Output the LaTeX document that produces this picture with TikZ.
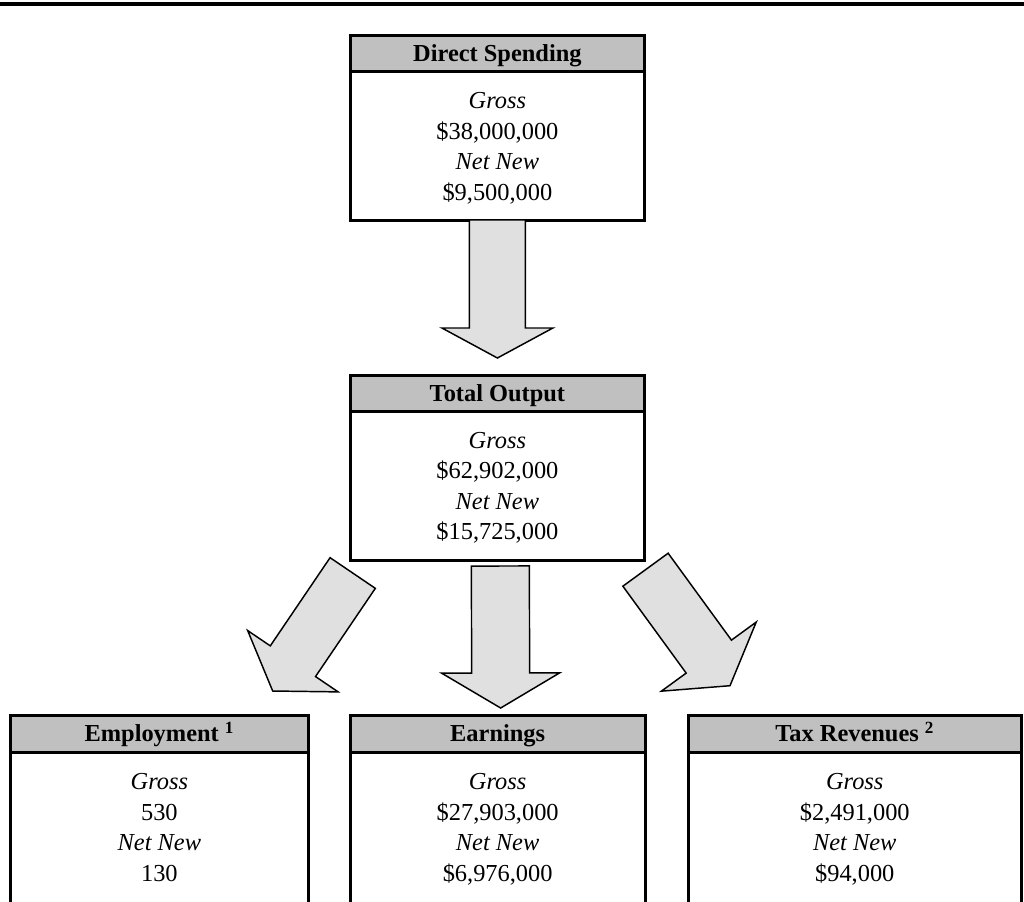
\documentclass[tikz,border=0pt]{standalone}
\usepackage{fontspec}
\setmainfont{Liberation Serif}
\usetikzlibrary{calc}
\definecolor{hdrgray}{RGB}{192,192,192}
\definecolor{arrgray}{RGB}{224,224,224}
\tikzset{
  frame/.style={draw=black, line width=2.25pt, inner sep=0pt, outer sep=0pt, anchor=north west},
  hdr/.style={frame, fill=hdrgray, font=\bfseries\fontsize{18.3}{21}\selectfont, text height=12pt, text depth=0pt},
  bodybox/.style={frame, fill=white},
  txt/.style={anchor=base, inner sep=0pt, outer sep=0pt, font=\fontsize{18.3}{21}\selectfont},
  blk/.style={draw=black, fill=arrgray, line width=1.1pt, line join=miter},
  rule/.style={draw=black, line width=2.5pt},
}
% #1 start, #2 tip, #3 half shaft, #4 half head, #5 head length
\newcommand{\blockarrow}[5]{%
  \path ($(#2)!#5!(#1)$) coordinate (hb);
  \filldraw[blk] ($(#1)!#3!90:(#2)$) -- ($(hb)!#3!-90:(#1)$) -- ($(hb)!#4!-90:(#1)$) -- (#2)
    -- ($(hb)!#4!90:(#1)$) -- ($(hb)!#3!90:(#1)$) -- ($(#1)!#3!-90:(#2)$) -- cycle;
}
% #1 prefix, #2 body node, #3 value 1, #4 value 2
\newcommand{\bodylines}[4]{%
  \node[txt] (#1-l1) at ($(#2.north)+(0,37)$) {\itshape Gross};
  \node[txt] (#1-l2) at ($(#2.north)+(0,67.5)$) {#3};
  \node[txt] (#1-l3) at ($(#2.north)+(0,98)$) {\itshape Net New};
  \node[txt] (#1-l4) at ($(#2.north)+(0,128.5)$) {#4};
}
\begin{document}
\begin{tikzpicture}[x=0.75pt,y=-0.75pt]
\useasboundingbox (0,0) rectangle (1024,901);
\clip (0,0) rectangle (1024,901);
% top rule
\coordinate (rl) at (0,4);
\coordinate (rr) at (1024,4);
\draw[rule] (rl) -- (rr);

% Direct Spending
\node[bodybox, minimum width=294.2*0.75pt, minimum height=148.3*0.75pt] (dsbody) at (350.3,71.7) {};
\node[hdr, minimum width=294.2*0.75pt, minimum height=36.4*0.75pt] (dshead) at (350.3,35.3) {Direct Spending};
\bodylines{ds}{dsbody}{\$38,000,000}{\$9,500,000}

% Total Output
\node[bodybox, minimum width=294.2*0.75pt, minimum height=148.6*0.75pt] (tobody) at (350.3,411.4) {};
\node[hdr, minimum width=294.2*0.75pt, minimum height=36.4*0.75pt] (tohead) at (350.3,375) {Total Output};
\bodylines{to}{tobody}{\$62,902,000}{\$15,725,000}

% Employment
\node[bodybox, minimum width=297.3*0.75pt, minimum height=152*0.75pt] (embody) at (10.7,752.5) {};
\node[hdr, minimum width=297.3*0.75pt, minimum height=37.5*0.75pt] (emhead) at (10.7,715) {Employment \textsuperscript{1}};
\bodylines{em}{embody}{530}{130}

% Earnings
\node[bodybox, minimum width=295.3*0.75pt, minimum height=152*0.75pt] (eabody) at (350,752.5) {};
\node[hdr, minimum width=295.3*0.75pt, minimum height=37.5*0.75pt] (eahead) at (350,715) {Earnings};
\bodylines{ea}{eabody}{\$27,903,000}{\$6,976,000}

% Tax Revenues
\node[bodybox, minimum width=332.5*0.75pt, minimum height=152*0.75pt] (txbody) at (688.5,752.5) {};
\node[hdr, minimum width=332.5*0.75pt, minimum height=37.5*0.75pt] (txhead) at (688.5,715) {Tax Revenues \textsuperscript{2}};
\bodylines{tx}{txbody}{\$2,491,000}{\$94,000}

% block arrows
\coordinate (a1s) at (dsbody.south);
\coordinate (a1t) at ($(tohead.north)+(0,-17)$);
\blockarrow{a1s}{a1t}{21pt}{41.6pt}{22.5pt}

\coordinate (a2s) at ($(tobody.south)+(3,6)$);
\coordinate (a2t) at ($(eahead.north)+(3,-7)$);
\blockarrow{a2s}{a2t}{21.75pt}{44.25pt}{26.25pt}

\coordinate (a3s) at (352.7,573);
\coordinate (a3t) at (272.7,691);
\blockarrow{a3s}{a3t}{20.5pt}{41pt}{27pt}

\coordinate (a4s) at (645.5,569.7);
\coordinate (a4t) at (730,685.7);
\blockarrow{a4s}{a4t}{21pt}{44pt}{27pt}
\end{tikzpicture}
\end{document}
